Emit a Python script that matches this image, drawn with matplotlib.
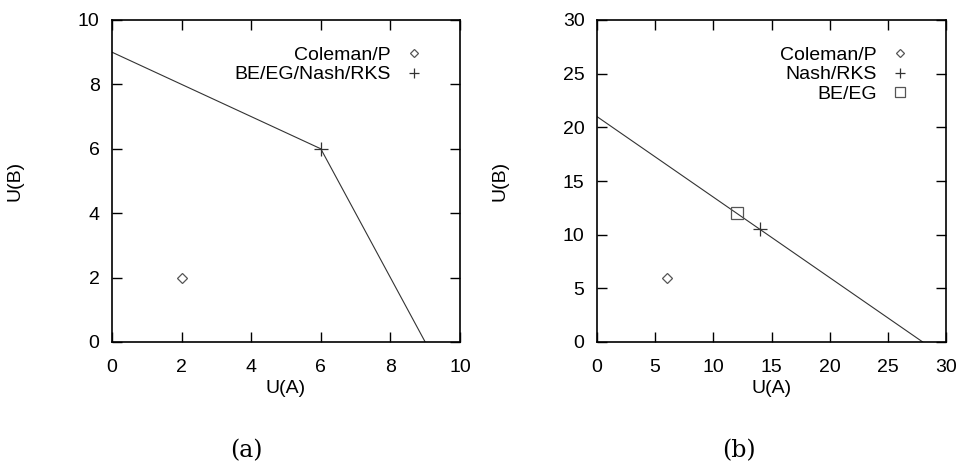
import numpy as np
import matplotlib.pyplot as plt

plt.rcParams['font.family'] = ['Liberation Sans', 'DejaVu Sans']

# panel (a)
a_frontier_x = [0, 6, 9]
a_frontier_y = [9, 6, 0]
a_coleman = (2, 2)
a_nash = (6, 6)

# panel (b)
b_frontier_x = [0, 28]
b_frontier_y = [21, 0]
b_coleman = (6, 6)
b_nash = (14, 10.5)
b_beeg = (12, 12)

fig = plt.figure(figsize=(9.58, 4.66), dpi=100)
ax1 = fig.add_axes([112/958, 1 - 342/466, 348/958, 322/466])
ax2 = fig.add_axes([597/958, 1 - 342/466, 349/958, 322/466])

lc = '#333333'
mc = '#555555'

ax1.plot(a_frontier_x, a_frontier_y, color=lc, lw=0.8)
ax1.plot(*a_coleman, ls='none', marker='D', mfc='none', mec=mc, ms=5.5, mew=0.9, label='Coleman/P')
ax1.plot(*a_nash, ls='none', marker='+', color=lc, ms=10, mew=0.9, label='BE/EG/Nash/RKS')
ax1.set_xlim(0, 10)
ax1.set_ylim(0, 10)
ax1.set_xticks([0, 2, 4, 6, 8, 10])
ax1.set_yticks([0, 2, 4, 6, 8, 10])

ax2.plot(b_frontier_x, b_frontier_y, color=lc, lw=0.8)
ax2.plot(*b_coleman, ls='none', marker='D', mfc='none', mec=mc, ms=5.5, mew=0.9, label='Coleman/P')
ax2.plot(*b_nash, ls='none', marker='+', color=lc, ms=10, mew=0.9, label='Nash/RKS')
ax2.plot(*b_beeg, ls='none', marker='s', mfc='none', mec=mc, ms=9, mew=0.9, label='BE/EG')
ax2.set_xlim(0, 30)
ax2.set_ylim(0, 30)
ax2.set_xticks(np.arange(0, 31, 5))
ax2.set_yticks(np.arange(0, 31, 5))

for ax in (ax1, ax2):
    ax.tick_params(direction='in', top=True, right=True, length=7, width=1, labelsize=14)
    ax.tick_params(axis='x', pad=12)
    ax.tick_params(axis='y', pad=9)
    for s in ax.spines.values():
        s.set_linewidth(1.2)
    ax.set_xlabel('U(A)', fontsize=14)
    ax.set_ylabel('U(B)', fontsize=14)
    ax.xaxis.set_label_coords(0.5, -0.118)
    ax.yaxis.set_label_coords(-0.255, 0.5)
    ax.legend(loc='upper right', bbox_to_anchor=(0.963, 0.985), markerfirst=False,
              frameon=False, fontsize=14, handlelength=1.2, handletextpad=0.6,
              labelspacing=0.1, borderaxespad=0.7, numpoints=1, markerscale=0.75)

fig.text(246/958, 1 - 451/466, '(a)', ha='center', va='center', fontsize=17, family='DejaVu Serif')
fig.text(739/958, 1 - 451/466, '(b)', ha='center', va='center', fontsize=17, family='DejaVu Serif')

fig.savefig('out.png', dpi=100)
